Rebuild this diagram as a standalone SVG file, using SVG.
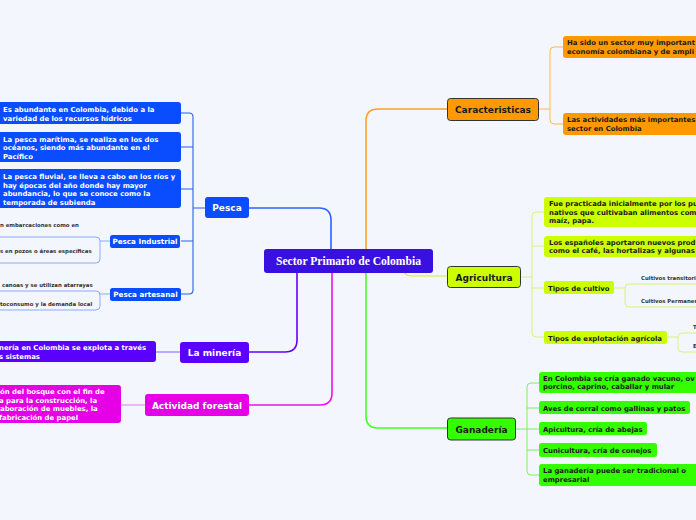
<svg xmlns="http://www.w3.org/2000/svg" width="696" height="520" viewBox="0 0 696 520">
<style>
.t{font-family:"DejaVu Sans",Verdana,sans-serif;font-weight:bold;font-size:6.9px}
.w{fill:#ffffff}
.k{fill:#1a1a1a}
.s{font-family:"DejaVu Sans",Verdana,sans-serif;font-weight:bold;font-size:5.4px;fill:#333}
.m{font-family:"DejaVu Sans",Verdana,sans-serif;font-weight:bold;font-size:9px;text-anchor:middle}
.sm{font-family:"DejaVu Sans",Verdana,sans-serif;font-weight:bold;font-size:7.2px;text-anchor:middle}
.c{fill:none;stroke-linecap:round}
.rb{stroke:#333;stroke-width:1}
</style>
<rect width="696" height="520" fill="#f3f6fd"/>
<g id="connectors">
<path class="c" d="M331 249 V220 Q331 208 319 208 H249" stroke="#2a64ff" stroke-width="1.6"/>
<path class="c" d="M297 273 V340 Q297 352 285 352 H249" stroke="#6200ff" stroke-width="1.6"/>
<path class="c" d="M332 273 V393 Q332 405 320 405 H249" stroke="#ee10ee" stroke-width="1.6"/>
<path class="c" d="M366 249 V121 Q366 109 378 109 H447" stroke="#ffa020" stroke-width="1.6"/>
<path class="c" d="M404 272 Q406 276 413 276 H447" stroke="#d4f020" stroke-width="1.2"/>
<path class="c" d="M366 273 V416 Q366 428 378 428 H447" stroke="#44ff22" stroke-width="1.6"/>
<g stroke="#2a5ef0" stroke-width="1.1" fill="none">
<path d="M181 113 H189 Q193 113 193 117 V290 Q193 294 189 294 H181"/>
<path d="M181 147 H193 M181 189 H193 M181 241 H193 M193 208 H205"/>
</g>
<g stroke="#8caaf8" stroke-width="1" fill="none">
<path d="M0 237 H96 Q100 237 100 241 V259 Q100 263 96 263 H0 M100 241 H110"/>
<path d="M0 291 H96 Q100 291 100 295 V306 Q100 310 96 310 H0 M100 294 H110"/>
</g>
<path d="M156 352 H180" stroke="#8a5cff" stroke-width="1" fill="none"/>
<path d="M121 405 H145" stroke="#f070f0" stroke-width="1" fill="none"/>
<g stroke="#ffb84a" stroke-width="1" fill="none">
<path d="M539 109 H550 M563 47 H554 Q550 47 550 51 V120 Q550 124 554 124 H563"/>
</g>
<g stroke="#d9f27a" stroke-width="1" fill="none">
<path d="M521 277 H532 M544 212 H536 Q532 212 532 216 V333 Q532 337 536 337 H544 M532 246 H544 M532 288 H544"/>
<path d="M614 288 H625 M696 284 H629 Q625 284 625 288 V303 Q625 307 629 307 H696"/>
<path d="M667 337 H678 M696 333 H682 Q678 333 678 337 V348 Q678 352 682 352 H696"/>
</g>
<g stroke="#7cf25a" stroke-width="1" fill="none">
<path d="M516 429 H527 M539 383 H531 Q527 383 527 387 V471 Q527 475 531 475 H539 M527 408 H539 M527 429 H539 M527 450 H539"/>
</g>
</g>
<g id="central">
<rect x="264" y="249" width="169" height="24" rx="3" fill="#3a10e0"/>
<text x="348.5" y="265" text-anchor="middle" font-family="'Liberation Serif','Times New Roman',serif" font-weight="bold" font-size="11.6" fill="#fff">Sector Primario de Colombia</text>
</g>
<g id="pesca">
<rect x="205" y="197" width="44" height="21" rx="3" fill="#0a4cff"/>
<text class="m w" x="227" y="211">Pesca</text>
</g>
<g id="pesca-1">
<rect x="-4" y="102" width="185" height="22" rx="3" fill="#0a4cff"/>
<text class="t w" x="3" y="111.5">Es abundante en Colombia, debido a la</text>
<text class="t w" x="3" y="120.5">variedad de los recursos hídricos</text>
</g>
<g id="pesca-2">
<rect x="-4" y="132" width="185" height="30" rx="3" fill="#0a4cff"/>
<text class="t w" x="3" y="141.5">La pesca marítima, se realiza en los dos</text>
<text class="t w" x="3" y="150">océanos, siendo más abundante en el</text>
<text class="t w" x="3" y="158.5">Pacífico</text>
</g>
<g id="pesca-3">
<rect x="-4" y="169" width="185" height="39" rx="3" fill="#0a4cff"/>
<text class="t w" x="3" y="179">La pesca fluvial, se lleva a cabo en los ríos y</text>
<text class="t w" x="3" y="187.5">hay épocas del año donde hay mayor</text>
<text class="t w" x="3" y="196">abundancia, lo que se conoce como la</text>
<text class="t w" x="3" y="204.5">temporada de subienda</text>
</g>
<g id="pesca-industrial">
<rect x="110" y="235" width="70" height="13" rx="2.5" fill="#0a4cff"/>
<text class="sm w" x="145" y="244">Pesca Industrial</text>
<text class="s" x="0" y="227">n embarcaciones como en</text>
<text class="s" x="0" y="253">s en pozos o áreas específicas</text>
</g>
<g id="pesca-artesanal">
<rect x="110" y="288" width="71" height="13" rx="2.5" fill="#0a4cff"/>
<text class="sm w" x="145.5" y="297">Pesca artesanal</text>
<text class="s" x="2" y="287">canoas y se utilizan atarrayas</text>
<text class="s" x="0" y="306">toconsumo y la demanda local</text>
</g>
<g id="mineria">
<rect x="180" y="342" width="69" height="21" rx="3" fill="#5a00ff"/>
<text class="m w" x="214.5" y="356">La minería</text>
</g>
<g id="mineria-1">
<rect x="-4" y="341" width="160" height="21" rx="3" fill="#5a00ff"/>
<text class="t w" x="-1" y="350">nería en Colombia se explota a través</text>
<text class="t w" x="-1" y="358.5">s sistemas</text>
</g>
<g id="forestal">
<rect x="145" y="394" width="104" height="22" rx="3" fill="#e600e6"/>
<text class="m w" x="197" y="408.5">Actividad forestal</text>
</g>
<g id="forestal-1">
<rect x="-4" y="385" width="125" height="38" rx="3" fill="#e600e6"/>
<text class="t w" x="0" y="394">ón del bosque con el fin de</text>
<text class="t w" x="-1" y="402.5">a para la construcción, la</text>
<text class="t w" x="0" y="411">aboración de muebles, la</text>
<text class="t w" x="-1" y="419.5">fabricación de papel</text>
</g>
<g id="caracteristicas">
<rect x="447.5" y="98.5" width="91" height="22" rx="3" fill="#ff9900" class="rb"/>
<text class="m k" x="493" y="112.5">Caracteristicas</text>
</g>
<g id="car-1">
<rect x="563" y="36" width="140" height="22" rx="3" fill="#ff9900"/>
<text class="t k" x="567" y="45">Ha sido un sector muy important</text>
<text class="t k" x="567" y="54">economía colombiana y de ampli</text>
</g>
<g id="car-2">
<rect x="563" y="113" width="140" height="22" rx="3" fill="#ff9900"/>
<text class="t k" x="567" y="122">Las actividades más importantes</text>
<text class="t k" x="567" y="131">sector en Colombia</text>
</g>
<g id="agricultura">
<rect x="447.5" y="266.5" width="73" height="21" rx="3" fill="#ccff00" class="rb"/>
<text class="m k" x="484" y="280.5">Agricultura</text>
</g>
<g id="agri-1">
<rect x="544" y="197" width="160" height="30" rx="3" fill="#ccff00"/>
<text class="t k" x="549" y="206">Fue practicada inicialmente por los pu</text>
<text class="t k" x="549" y="214.5">nativos que cultivaban alimentos com</text>
<text class="t k" x="549" y="223">maíz, papa.</text>
</g>
<g id="agri-2">
<rect x="544" y="236" width="160" height="21" rx="3" fill="#ccff00"/>
<text class="t k" x="549" y="244.5">Los españoles aportaron nuevos prod</text>
<text class="t k" x="549" y="253">como el café, las hortalizas y algunas</text>
</g>
<g id="tipos-cultivo">
<rect x="544" y="281" width="70" height="13" rx="2.5" fill="#ccff00"/>
<text class="t k" x="548" y="290.5">Tipos de cultivo</text>
<text class="s" x="641" y="280">Cultivos transitori</text>
<text class="s" x="641" y="303">Cultivos Permanen</text>
</g>
<g id="tipos-explotacion">
<rect x="544" y="331" width="123" height="13" rx="2.5" fill="#ccff00"/>
<text class="t k" x="548" y="340.5">Tipos de explotación agrícola</text>
<text class="s" x="693" y="329">T</text>
<text class="s" x="693" y="348">E</text>
</g>
<g id="ganaderia">
<rect x="447.5" y="418" width="68" height="22" rx="3" fill="#33ff00" class="rb"/>
<text class="m k" x="481.5" y="432.5">Ganadería</text>
</g>
<g id="gan-1">
<rect x="539" y="372" width="165" height="21" rx="3" fill="#33ff00"/>
<text class="t k" x="543" y="380.5">En Colombia se cría ganado vacuno, ov</text>
<text class="t k" x="543" y="389">porcino, caprino, caballar y mular</text>
</g>
<g id="gan-2">
<rect x="539" y="401" width="151" height="13" rx="2.5" fill="#33ff00"/>
<text class="t k" x="543" y="410.5">Aves de corral como gallinas y patos</text>
</g>
<g id="gan-3">
<rect x="539" y="422" width="108" height="13" rx="2.5" fill="#33ff00"/>
<text class="t k" x="543" y="431.5">Apicultura, cría de abejas</text>
</g>
<g id="gan-4">
<rect x="539" y="443" width="118" height="14" rx="2.5" fill="#33ff00"/>
<text class="t k" x="543" y="452.5">Cunicultura, cría de conejos</text>
</g>
<g id="gan-5">
<rect x="539" y="464" width="165" height="22" rx="3" fill="#33ff00"/>
<text class="t k" x="543" y="473">La ganadería puede ser tradicional o</text>
<text class="t k" x="543" y="482">empresarial</text>
</g>
</svg>
